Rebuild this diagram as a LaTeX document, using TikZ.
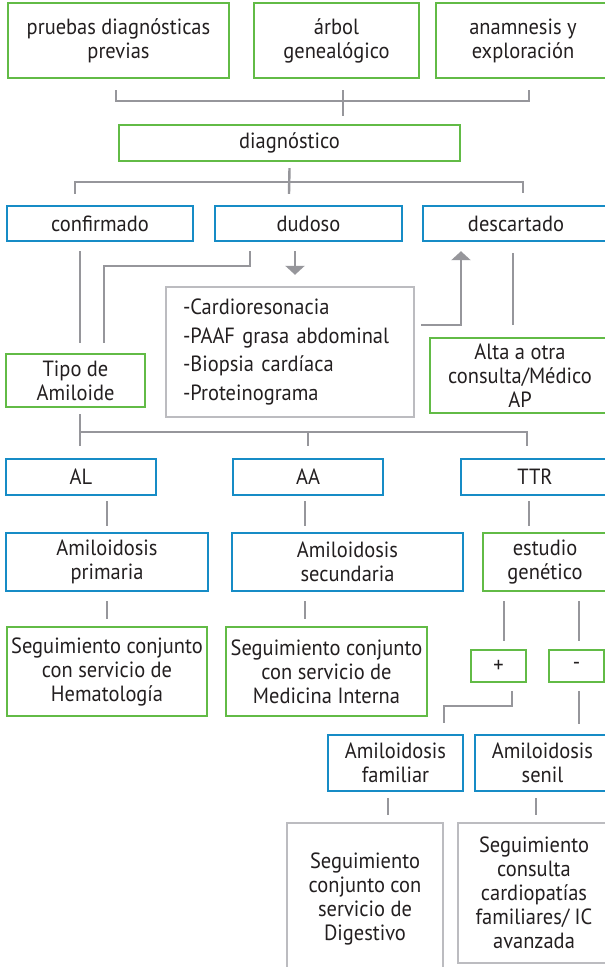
\documentclass[tikz,border=0pt]{standalone}
\usepackage{fontspec}
\setmainfont{PT Sans}[FakeStretch=0.93]
\usetikzlibrary{calc,arrows.meta}
\definecolor{verde}{RGB}{98,187,70}
\definecolor{azul}{RGB}{22,140,198}
\definecolor{gris}{RGB}{150,150,155}
\definecolor{grisclaro}{RGB}{188,188,192}
\definecolor{texto}{RGB}{35,31,32}

\begin{document}
\begin{tikzpicture}[x=1pt,y=-1pt,
  caja/.style={draw, line width=2.4pt, align=center, text=texto, inner sep=2pt,
    font=\fontsize{22}{24}\selectfont},
  verdes/.style={caja, draw=verde},
  azules/.style={caja, draw=azul},
  grises/.style={caja, draw=grisclaro},
  linea/.style={draw=gris, line width=2.4pt},
  flecha/.style={linea, -{Triangle[length=9pt,width=19pt]}}]
  \useasboundingbox (0,0) rectangle (605,967);
  \fill[white] (0,0) rectangle (605,967);
  \clip (0,0) rectangle (605,967);
  \node[verdes, minimum width=221pt, minimum height=75pt] (pruebas) at (118.5,40.5) {pruebas diagnósticas\\previas};
  \node[verdes, minimum width=165pt, minimum height=75pt] (arbol) at (336.5,40.5) {árbol\\genealógico};
  \node[verdes, minimum width=174pt, minimum height=75pt] (anamnesis) at (523,40.5) {anamnesis y\\exploración};
  \node[verdes, minimum width=341pt, minimum height=36pt] (diag) at (289.5,143) {diagnóstico};
  \node[azules, minimum width=186pt, minimum height=35pt] (confirmado) at (100,223.5) {confirmado};
  \node[azules, minimum width=187pt, minimum height=35pt] (dudoso) at (308.5,223.5) {dudoso};
  \node[azules, minimum width=186pt, minimum height=35pt] (descartado) at (516,223.5) {descartado};
  \node[grises, minimum width=248pt, minimum height=130pt, text width=214pt, align=left,
    font=\fontsize{22}{28.7}\selectfont] (pruebasdudoso) at (290,352)
    {-Cardioresonacia\\-PAAF grasa abdominal\\-Biopsia cardíaca\\-Proteinograma};
  \node[verdes, minimum width=139pt, minimum height=53pt] (tipo) at (75.5,380.5) {Tipo de\\Amiloide};
  \node[verdes, minimum width=180pt, minimum height=75pt] (alta) at (520,375.5) {Alta a otra\\consulta/Médico\\AP};
  \node[azules, minimum width=150pt, minimum height=36pt] (al) at (81,477) {AL};
  \node[azules, minimum width=150pt, minimum height=36pt] (aa) at (308,477) {AA};
  \node[azules, minimum width=148pt, minimum height=36pt] (ttr) at (535,477) {TTR};
  \node[azules, minimum width=202pt, minimum height=58pt] (primaria) at (107,562) {Amiloidosis\\primaria};
  \node[azules, minimum width=231pt, minimum height=58pt] (secundaria) at (347.5,562) {Amiloidosis\\secundaria};
  \node[verdes, minimum width=124pt, minimum height=58pt] (estudio) at (545,562) {estudio\\genético};
  \node[verdes, minimum width=200pt, minimum height=89pt] (hemato) at (107,671.5) {Seguimiento conjunto\\con servicio de\\Hematología};
  \node[verdes, minimum width=201pt, minimum height=89pt] (medint) at (326.5,671.5) {Seguimiento conjunto\\con servicio de\\Medicina Interna};
  \node[verdes, minimum width=55pt, minimum height=32pt] (mas) at (498.5,666) {+};
  \node[verdes, minimum width=55pt, minimum height=32pt] (menos) at (576.5,666) {-};
  \node[azules, minimum width=135pt, minimum height=56pt] (familiar) at (395.5,763) {Amiloidosis\\familiar};
  \node[azules, minimum width=135pt, minimum height=56pt] (senil) at (542.5,763) {Amiloidosis\\senil};
  \node[grises, minimum width=156pt, minimum height=152pt] (digestivo) at (365,899) {Seguimiento\\conjunto con\\servicio de\\Digestivo};
  \node[grises, minimum width=152pt, minimum height=140pt] (cardiopatias) at (534,893) {Seguimiento\\consulta\\cardiopatías\\familiares/ IC\\avanzada};
  \draw[linea] ($(pruebas.south)+(-2.5,11)$) |- ($(anamnesis.south)+(6,22)$) -- ++(0,-11);
  \draw[linea] ($(arbol.south)+(6.5,11)$) -- ($(diag.north)+(53.5,-8)$);
  \draw[linea] ($(diag.south)+(0,6)$) -- ($(dudoso.north)+(-19.5,-11)$);
  \draw[linea] ($(confirmado.north)+(-25,-11)$) |- ($(descartado.north)+(7,-23)$) -- ++(0,11);
  \draw[linea] ($(confirmado.south)+(-20,9)$) -- ($(tipo.north)+(4.5,-10)$);
  \draw[linea] ($(dudoso.south)+(-58.5,9)$) |- ($(tipo.north)+(28.5,-87)$) -- ($(tipo.north)+(28.5,-10)$);
  \draw[flecha] ($(dudoso.south)+(-13.5,9)$) -- ($(pruebasdudoso.north)+(5,-11)$);
  \draw[flecha] ($(pruebasdudoso.east)+(6,-27)$) -| ($(descartado.south)+(-55,9)$);
  \draw[linea] ($(descartado.south)+(-3,11)$) -- ($(alta.north)+(-7,-12)$);
  \draw[linea] ($(tipo.south)+(4.5,6)$) -- ($(al.north)+(-1,-12)$);
  \draw[linea] ($(al.north)+(-1,-26)$) -| ($(ttr.north)+(-8,-12)$);
  \draw[linea] ($(aa.north)+(0,-26)$) -- ($(aa.north)+(0,-12)$);
  \draw[linea] ($(al.south)+(26,5)$) -- ($(primaria.north)+(0,-6)$);
  \draw[linea] ($(aa.south)+(-3,5)$) -- ($(secundaria.north)+(-42.5,-6)$);
  \draw[linea] ($(ttr.south)+(-6,5)$) -- ($(estudio.north)+(-16,-6)$);
  \draw[linea] ($(primaria.south)+(0,9)$) -- ($(hemato.north)+(0,-7)$);
  \draw[linea] ($(secundaria.south)+(-42.5,9)$) -- ($(medint.north)+(-21.5,-7)$);
  \draw[linea] ($(estudio.south)+(-41,9)$) -- ($(mas.north)+(5.5,-8)$);
  \draw[linea] ($(estudio.south)+(34,9)$) -- ($(menos.north)+(2.5,-8)$);
  \draw[linea] ($(mas.south)+(13.5,8)$) |- ($(familiar.north)+(48.5,-28)$) -- ($(familiar.north)+(48.5,-11)$);
  \draw[linea] ($(menos.south)+(2.5,8)$) -- ($(senil.north)+(36.5,-10)$);
  \draw[linea] ($(familiar.south)+(-7.5,6)$) -- ($(digestivo.north)+(23,-7)$);
  \draw[linea] ($(senil.south)+(-6.5,6)$) -- ($(cardiopatias.north)+(2,-7)$);
\end{tikzpicture}
\end{document}
